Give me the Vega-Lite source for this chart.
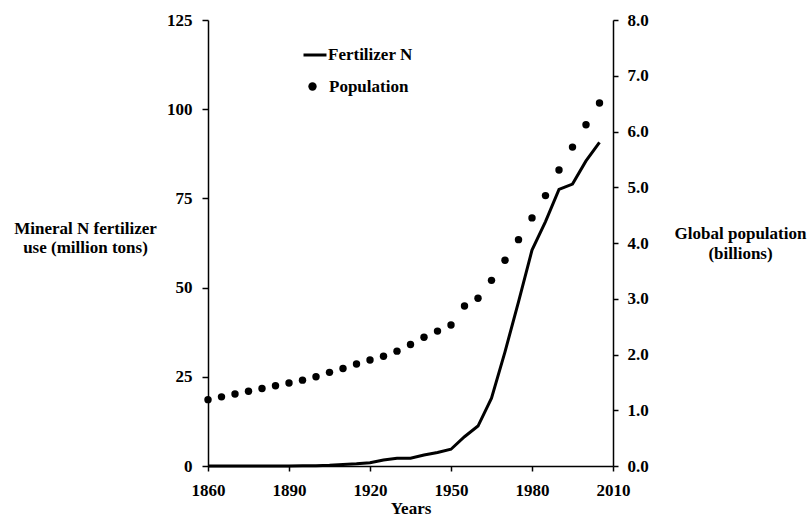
{
  "$schema": "https://vega.github.io/schema/vega-lite/v6.json",
  "width": 405,
  "height": 446,
  "autosize": "none",
  "padding": {"left": 208, "top": 20, "right": 195, "bottom": 51},
  "background": "white",
  "config": {
    "view": {"stroke": null},
    "font": "'Liberation Serif', 'Times New Roman', serif",
    "axis": {
      "grid": false,
      "domainColor": "black",
      "domainWidth": 1.5,
      "tickColor": "black",
      "tickWidth": 1.5,
      "labelFont": "'Liberation Serif', 'Times New Roman', serif",
      "labelFontWeight": "bold",
      "labelFontSize": 17,
      "labelColor": "black",
      "titleFont": "'Liberation Serif', 'Times New Roman', serif",
      "titleFontWeight": "bold",
      "titleFontSize": 17,
      "titleColor": "black"
    },
    "legend": {
      "labelFont": "'Liberation Serif', 'Times New Roman', serif",
      "labelFontWeight": "bold",
      "labelFontSize": 17,
      "labelColor": "black",
      "padding": 0
    }
  },
  "data": {
    "values": [
      {"Year": 1860, "Fertilizer": 0, "Population": 1.19},
      {"Year": 1865, "Fertilizer": 0, "Population": 1.24},
      {"Year": 1870, "Fertilizer": 0, "Population": 1.29},
      {"Year": 1875, "Fertilizer": 0, "Population": 1.34},
      {"Year": 1880, "Fertilizer": 0, "Population": 1.39},
      {"Year": 1885, "Fertilizer": 0, "Population": 1.44},
      {"Year": 1890, "Fertilizer": 0, "Population": 1.49},
      {"Year": 1895, "Fertilizer": 0.1, "Population": 1.54},
      {"Year": 1900, "Fertilizer": 0.1, "Population": 1.60},
      {"Year": 1905, "Fertilizer": 0.2, "Population": 1.68},
      {"Year": 1910, "Fertilizer": 0.4, "Population": 1.75},
      {"Year": 1915, "Fertilizer": 0.6, "Population": 1.83},
      {"Year": 1920, "Fertilizer": 0.9, "Population": 1.90},
      {"Year": 1925, "Fertilizer": 1.7, "Population": 1.97},
      {"Year": 1930, "Fertilizer": 2.2, "Population": 2.06},
      {"Year": 1935, "Fertilizer": 2.2, "Population": 2.18},
      {"Year": 1940, "Fertilizer": 3.1, "Population": 2.31},
      {"Year": 1945, "Fertilizer": 3.8, "Population": 2.42},
      {"Year": 1950, "Fertilizer": 4.7, "Population": 2.53},
      {"Year": 1955, "Fertilizer": 8.2, "Population": 2.87},
      {"Year": 1960, "Fertilizer": 11.2, "Population": 3.01},
      {"Year": 1965, "Fertilizer": 19, "Population": 3.33},
      {"Year": 1970, "Fertilizer": 32, "Population": 3.69},
      {"Year": 1975, "Fertilizer": 46, "Population": 4.06},
      {"Year": 1980, "Fertilizer": 60.5, "Population": 4.45},
      {"Year": 1985, "Fertilizer": 68.5, "Population": 4.85},
      {"Year": 1990, "Fertilizer": 77.5, "Population": 5.31},
      {"Year": 1995, "Fertilizer": 79, "Population": 5.72},
      {"Year": 2000, "Fertilizer": 85.5, "Population": 6.12},
      {"Year": 2005, "Fertilizer": 90.7, "Population": 6.51}
    ]
  },
  "encoding": {
    "x": {
      "field": "Year",
      "type": "quantitative",
      "scale": {"domain": [1860, 2010], "nice": false, "zero": false},
      "axis": {
        "values": [1860, 1890, 1920, 1950, 1980, 2010],
        "format": "d",
        "tickSize": 5,
        "labelPadding": 11,
        "labelFlush": false,
        "title": "Years",
        "titleY": 42,
        "titleBaseline": "middle"
      }
    }
  },
  "layer": [
    {
      "mark": {"type": "line", "strokeWidth": 3, "color": "black"},
      "encoding": {
        "y": {
          "field": "Fertilizer",
          "type": "quantitative",
          "scale": {"domain": [0, 125], "nice": false},
          "axis": {
            "orient": "left",
            "values": [0, 25, 50, 75, 100, 125],
            "format": "d",
            "tickSize": 6,
            "labelPadding": 10,
            "title": ["Mineral  N fertilizer", "use (million  tons)"],
            "titleAngle": 0,
            "titleAlign": "center",
            "titleBaseline": "middle",
            "titleLineHeight": 19,
            "titleX": -123,
            "titleY": 208
          }
        },
        "color": {
          "datum": "Fertilizer N",
          "scale": {"range": ["black"]},
          "legend": {
            "title": null,
            "orient": "none",
            "legendX": 94,
            "legendY": 22,
            "symbolType": "stroke",
            "symbolSize": 529,
            "symbolStrokeWidth": 3,
            "symbolStrokeColor": "black",
            "labelOffset": 0
          }
        }
      }
    },
    {
      "mark": {"type": "point", "filled": true, "color": "black", "size": 55, "opacity": 1},
      "encoding": {
        "y": {
          "field": "Population",
          "type": "quantitative",
          "scale": {"domain": [0, 8], "nice": false},
          "axis": {
            "orient": "right",
            "values": [0, 1, 2, 3, 4, 5, 6, 7, 8],
            "format": ".1f",
            "tickSize": 5,
            "labelPadding": 9,
            "title": ["Global population", "(billions)"],
            "titleAngle": 0,
            "titleAlign": "center",
            "titleBaseline": "middle",
            "titleLineHeight": 20,
            "titleX": 127,
            "titleY": 213
          }
        },
        "shape": {
          "datum": "Population",
          "scale": {"range": ["circle"]},
          "legend": {
            "title": null,
            "orient": "none",
            "legendX": 96,
            "legendY": 58,
            "symbolSize": 70,
            "symbolFillColor": "black",
            "symbolStrokeColor": "black",
            "symbolOpacity": 1,
            "labelOffset": 8
          }
        }
      }
    }
  ],
  "resolve": {"scale": {"y": "independent"}}
}
